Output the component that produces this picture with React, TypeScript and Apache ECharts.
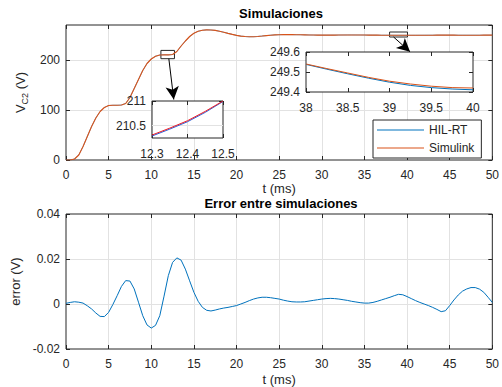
import React, { useEffect, useRef } from 'react';
import * as echarts from 'echarts';

// ---------------- data ----------------
const timeMs = [
  0, 0.5, 1, 1.5, 2, 2.5, 3, 3.5, 4, 4.5, 5, 5.5, 6, 6.5, 7, 7.5, 8, 8.5, 9, 9.5,
  10, 10.5, 11, 11.5, 12, 12.5, 13, 13.5, 14, 14.5, 15, 15.5, 16, 16.5, 17, 17.5, 18, 18.5, 19, 19.5,
  20, 20.5, 21, 21.5, 22, 22.5, 23, 23.5, 24, 24.5, 25, 25.5, 26, 26.5, 27, 27.5, 28, 28.5, 29, 29.5,
  30, 30.5, 31, 31.5, 32, 32.5, 33, 33.5, 34, 34.5, 35, 35.5, 36, 36.5, 37, 37.5, 38, 38.5, 39, 39.5,
  40, 40.5, 41, 41.5, 42, 42.5, 43, 43.5, 44, 44.5, 45, 45.5, 46, 46.5, 47, 47.5, 48, 48.5, 49, 49.5, 50,
];

// V_C2 (V), Simulink
const simulinkV = [
  0, 0, 2, 10, 27, 47, 67, 84, 97, 105, 109, 109.5, 109.5, 110, 113, 125, 143, 161, 179, 193,
  202, 207.5, 210, 210.6, 210.3, 211, 217, 228, 238, 247, 253.5, 257.5, 259.5, 260.3, 260, 259.2, 257.5, 255.5, 253.3, 251.2,
  249.3, 247.8, 246.9, 246.5, 246.6, 247.1, 247.9, 248.8, 249.6, 250.2, 250.6, 250.8, 250.8, 250.7, 250.6, 250.5, 250.3, 250.1, 249.9, 249.8,
  249.7, 249.7, 249.7, 249.8, 249.9, 250, 250.1, 250.1, 250.05, 250, 249.9, 249.8, 249.72, 249.66, 249.61, 249.57, 249.54, 249.5, 249.45, 249.43,
  249.42, 249.43, 249.46, 249.5, 249.55, 249.6, 249.65, 249.69, 249.72, 249.72, 249.7, 249.68, 249.65, 249.63, 249.62, 249.62, 249.63, 249.65, 249.67, 249.69, 249.7,
];

// V_C2 (V), HIL-RT: indistinguishable from Simulink at the main plot's scale
const hilRtV = simulinkV.slice();

// error (V)
const errorV = [
  0.0003, 0.0007, 0.001, 0.0008, 0.0004, -0.0008, -0.0022, -0.004, -0.0055, -0.0056,
  -0.0037, -0.0002, 0.0037, 0.0078, 0.0104, 0.0102, 0.0067, 0.0008, -0.0052, -0.0093,
  -0.0107, -0.0095, -0.0052, 0.0035, 0.0126, 0.0185, 0.0205, 0.0195, 0.0155, 0.0103,
  0.0052, 0.0012, -0.0015, -0.0028, -0.0031, -0.0027, -0.0022, -0.0018, -0.0015, -0.0011,
  -0.0007, 0, 0.0007, 0.0015, 0.0022, 0.0027, 0.003, 0.003, 0.0028, 0.0025,
  0.0022, 0.0017, 0.0013, 0.001, 0.0009, 0.0009, 0.001, 0.0013, 0.0016, 0.0019,
  0.0022, 0.0024, 0.0025, 0.0024, 0.0022, 0.0019, 0.0016, 0.0012, 0.0009, 0.0006,
  0.0004, 0.0004, 0.0007, 0.0012, 0.0018, 0.0024, 0.003, 0.0037, 0.0043, 0.0041,
  0.0033, 0.0024, 0.0015, 0.0007, 0, -0.0007, -0.0015, -0.0024, -0.0034, -0.003,
  -0.0007, 0.0018, 0.004, 0.0057, 0.0067, 0.0073, 0.0073, 0.0066, 0.0052, 0.003, 0.0007,
];

// zoom 1 (12.3 .. 12.5 ms)
const zoom1T = [12.3, 12.35, 12.4, 12.45, 12.5];
const zoom1Sim = [210.31, 210.45, 210.6, 210.79, 211.0];
const zoom1Hil = [210.29, 210.43, 210.58, 210.77, 210.99];

// zoom 2 (38 .. 40 ms)
const zoom2T = [38, 38.25, 38.5, 38.75, 39, 39.25, 39.5, 39.75, 40];
const zoom2Sim = [249.54, 249.517, 249.495, 249.473, 249.454, 249.44, 249.429, 249.422, 249.42];
const zoom2Hil = [249.538, 249.514, 249.491, 249.469, 249.449, 249.433, 249.422, 249.415, 249.411];

const mainTicksX = [0, 50, 5];
const mainTicksY = [0, 270, 100];
const errTicksY = [-0.02, 0.04, 0.02];
const zoom1TicksX = [12.3, 12.5, 0.1];
const zoom1RangeY = [210.25, 211];
const zoom1LabelsY = [210.5, 211];
const zoom2TicksX = [38, 40, 0.5];
const zoom2TicksY = [249.4, 249.6, 0.1];

// ---------------- styles ----------------
const FONT = "'Liberation Sans', Arial, Helvetica, sans-serif";
const AX = '#262626';
const GRIDC = '#e2e2e2';
const BLUE = '#0072BD';
const ORANGE = '#D95319';
const RED = '#ec1c24';
const DBLUE = '#2a5fd8';

const pair = (xs: number[], ys: number[]) => xs.map((x, i) => [x, ys[i]]);

const NOLINE = { show: false, onZero: false };
const TICK = { show: true, inside: true, length: 4, lineStyle: { color: AX, width: 1 } };
const LABEL = { fontSize: 12, color: AX, fontFamily: FONT };
const SPLIT = {
  show: true,
  showMinLine: false,
  showMaxLine: false,
  lineStyle: { color: GRIDC, width: 1 },
};

function twin(kind: 'x' | 'y', gridIndex: number, min: number, max: number, interval: number | undefined, z: number, extraTick?: any) {
  return {
    type: 'value',
    gridIndex,
    position: kind === 'x' ? 'top' : 'right',
    min,
    max,
    interval,
    z,
    axisLine: NOLINE,
    axisTick: { ...TICK, ...(extraTick || {}) },
    axisLabel: { show: false },
    splitLine: { show: false },
  };
}

export default function App() {
  const ref = useRef<HTMLDivElement>(null);

  useEffect(() => {
    if (!ref.current) return;
    const chart = echarts.init(ref.current, undefined, { renderer: 'svg' });

    const xAxis: any[] = [
      // 0 main bottom
      {
        type: 'value', gridIndex: 0, position: 'bottom', min: mainTicksX[0], max: mainTicksX[1], interval: mainTicksX[2], z: 0,
        axisLine: NOLINE, axisTick: TICK, axisLabel: { ...LABEL, margin: 9 }, splitLine: SPLIT,
        name: 't (ms)', nameLocation: 'middle', nameGap: 21,
        nameTextStyle: { fontSize: 13, color: AX, fontFamily: FONT },
      },
      // 1 main top
      twin('x', 0, mainTicksX[0], mainTicksX[1], mainTicksX[2], 0),
      // 2 error bottom
      {
        type: 'value', gridIndex: 1, position: 'bottom', min: mainTicksX[0], max: mainTicksX[1], interval: mainTicksX[2], z: 0,
        axisLine: NOLINE, axisTick: TICK, axisLabel: { ...LABEL, margin: 9 }, splitLine: SPLIT,
        name: 't (ms)', nameLocation: 'middle', nameGap: 24,
        nameTextStyle: { fontSize: 13, color: AX, fontFamily: FONT },
      },
      // 3 error top
      twin('x', 1, mainTicksX[0], mainTicksX[1], mainTicksX[2], 0),
      // 4 zoom1 bottom
      {
        type: 'value', gridIndex: 2, position: 'bottom', min: zoom1TicksX[0], max: zoom1TicksX[1], interval: zoom1TicksX[2], z: 4,
        axisLine: NOLINE, axisTick: TICK, axisLabel: { ...LABEL, margin: 10 }, splitLine: SPLIT,
      },
      // 5 zoom1 top
      twin('x', 2, zoom1TicksX[0], zoom1TicksX[1], zoom1TicksX[2], 4),
      // 6 zoom2 bottom
      {
        type: 'value', gridIndex: 3, position: 'bottom', min: zoom2TicksX[0], max: zoom2TicksX[1], interval: zoom2TicksX[2], z: 4,
        axisLine: NOLINE, axisTick: TICK, axisLabel: { ...LABEL, margin: 10 }, splitLine: { show: false },
      },
      // 7 zoom2 top
      twin('x', 3, zoom2TicksX[0], zoom2TicksX[1], zoom2TicksX[2], 4),
    ];

    const yAxis: any[] = [
      // 0 main left
      {
        type: 'value', gridIndex: 0, position: 'left', min: mainTicksY[0], max: mainTicksY[1], interval: mainTicksY[2], z: 0,
        axisLine: NOLINE, axisTick: TICK,
        axisLabel: { ...LABEL, margin: 6, showMaxLabel: false }, splitLine: SPLIT,
        name: '{v|V}{s|C2}{v| (V)}', nameLocation: 'middle', nameGap: 37,
        nameTextStyle: {
          fontSize: 13, color: AX, fontFamily: FONT,
          rich: {
            v: { fontSize: 13, color: AX, fontFamily: FONT, lineHeight: 18, verticalAlign: 'middle' },
            s: { fontSize: 9, color: AX, fontFamily: FONT, lineHeight: 18, verticalAlign: 'bottom' },
          },
        },
      },
      // 1 main right
      twin('y', 0, mainTicksY[0], mainTicksY[1], mainTicksY[2], 0),
      // 2 error left
      {
        type: 'value', gridIndex: 1, position: 'left', min: errTicksY[0], max: errTicksY[1], interval: errTicksY[2], z: 0,
        axisLine: NOLINE, axisTick: TICK, axisLabel: { ...LABEL, margin: 6 }, splitLine: SPLIT,
        name: 'error (V)', nameLocation: 'middle', nameGap: 37,
        nameTextStyle: { fontSize: 13, color: AX, fontFamily: FONT },
      },
      // 3 error right
      twin('y', 1, errTicksY[0], errTicksY[1], errTicksY[2], 0),
      // 4 zoom1 left
      {
        type: 'value', gridIndex: 2, position: 'left', min: zoom1RangeY[0], max: zoom1RangeY[1], z: 4,
        axisLine: NOLINE,
        axisTick: { ...TICK, customValues: zoom1LabelsY },
        axisLabel: { ...LABEL, margin: 6, customValues: zoom1LabelsY },
        splitLine: { show: false },
      },
      // 5 zoom1 right
      twin('y', 2, zoom1RangeY[0], zoom1RangeY[1], undefined, 4, { customValues: zoom1LabelsY }),
      // 6 zoom2 left
      {
        type: 'value', gridIndex: 3, position: 'left', min: zoom2TicksY[0], max: zoom2TicksY[1], interval: zoom2TicksY[2], z: 4,
        axisLine: NOLINE, axisTick: TICK, axisLabel: { ...LABEL, margin: 6 }, splitLine: { show: false },
      },
      // 7 zoom2 right
      twin('y', 3, zoom2TicksY[0], zoom2TicksY[1], zoom2TicksY[2], 4),
    ];

    const line = (name: string, color: string, xi: number, data: number[][], z: number, width: number, extra?: any) => ({
      type: 'line', name, xAxisIndex: xi, yAxisIndex: xi, data, color,
      symbol: 'none', showSymbol: false, z,
      lineStyle: { color, width },
      ...(extra || {}),
    });

    const option: any = {
      animation: false,
      backgroundColor: '#ffffff',
      textStyle: { fontFamily: FONT },
      title: [
        {
          text: 'Simulaciones', left: 281, top: 7, textAlign: 'center', padding: 0,
          textStyle: { fontSize: 13, fontWeight: 'bold', color: '#000', fontFamily: FONT },
        },
        {
          text: 'Error entre simulaciones', left: 281, top: 197, textAlign: 'center', padding: 0,
          textStyle: { fontSize: 13, fontWeight: 'bold', color: '#000', fontFamily: FONT },
        },
      ],
      grid: [
        { left: 66, top: 25, width: 430, height: 135, show: true, backgroundColor: 'transparent', borderColor: AX, borderWidth: 1, z: 1 },
        { left: 66, top: 214, width: 430, height: 135, show: true, backgroundColor: 'transparent', borderColor: AX, borderWidth: 1, z: 1 },
        { left: 152, top: 101, width: 71, height: 37, show: true, backgroundColor: '#ffffff', borderColor: AX, borderWidth: 1, z: 3 },
        { left: 306, top: 52, width: 167, height: 40, show: true, backgroundColor: '#ffffff', borderColor: AX, borderWidth: 1, z: 3 },
      ],
      legend: {
        data: [
          { name: 'HIL-RT', icon: 'rect' },
          { name: 'Simulink', icon: 'rect' },
        ],
        orient: 'vertical', left: 373, top: 120,
        itemWidth: 47, itemHeight: 1.2, itemGap: 4,
        padding: [3, 7, 3, 4],
        backgroundColor: '#ffffff', borderColor: AX, borderWidth: 1, borderRadius: 0,
        textStyle: { fontSize: 12, color: AX, fontFamily: FONT, lineHeight: 14 },
        z: 6,
      },
      xAxis,
      yAxis,
      series: [
        line('HIL-RT', BLUE, 0, pair(timeMs, hilRtV), 2, 0.6),
        line('Simulink', ORANGE, 0, pair(timeMs, simulinkV), 2, 1.1, {
          markArea: {
            silent: true,
            itemStyle: { color: 'rgba(0,0,0,0)', borderColor: AX, borderWidth: 1 },
            data: [
              [{ xAxis: 11.13, yAxis: 202.6 }, { xAxis: 12.72, yAxis: 219.2 }],
              [{ xAxis: 37.95, yAxis: 246 }, { xAxis: 40.05, yAxis: 256 }],
            ],
          },
          markLine: {
            silent: true,
            symbol: ['none', 'arrow'],
            symbolSize: [10, 13],
            lineStyle: { color: '#000', width: 1, type: 'solid' },
            label: { show: false },
            data: [
              [{ coord: [12.06, 202.6] }, { coord: [12.64, 121] }],
              [{ coord: [38.42, 246] }, { coord: [40.35, 216.5] }],
            ],
          },
        }),
        line('Error', BLUE, 2, pair(timeMs, errorV), 2, 1),
        line('HIL-RT zoom 1', DBLUE, 4, pair(zoom1T, zoom1Hil), 5, 1, {
          markLine: {
            silent: true, symbol: 'none',
            lineStyle: { color: GRIDC, width: 1, type: 'solid' },
            label: { show: false },
            data: [{ yAxis: zoom1LabelsY[0] }],
          },
        }),
        line('Simulink zoom 1', RED, 4, pair(zoom1T, zoom1Sim), 5, 1),
        line('HIL-RT zoom 2', BLUE, 6, pair(zoom2T, zoom2Hil), 5, 1),
        line('Simulink zoom 2', ORANGE, 6, pair(zoom2T, zoom2Sim), 5, 1),
      ],
    };

    chart.setOption(option);
    return () => chart.dispose();
  }, []);

  return (
    <div
      ref={ref}
      style={{ position: 'absolute', left: 0, top: 0, width: 502, height: 387, background: '#fff' }}
    />
  );
}
